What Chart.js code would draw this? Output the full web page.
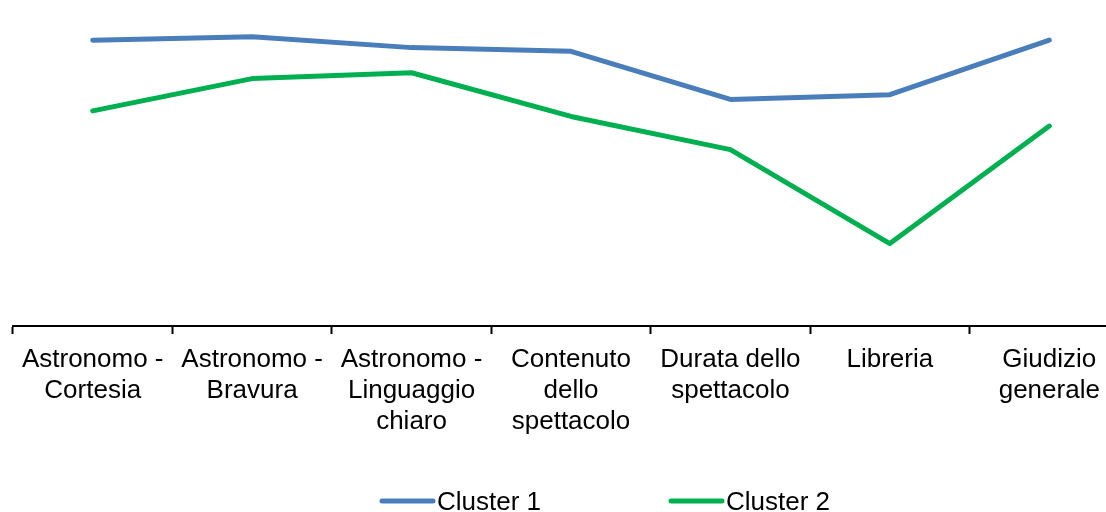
<!DOCTYPE html>
<html>
<head>
<meta charset="utf-8">
<script src="https://cdn.jsdelivr.net/npm/chart.js@4"></script>
<style>
  html, body { margin: 0; padding: 0; background: #fff; overflow: hidden; }
  #wrap { width: 1130px; height: 512px; position: relative; }
</style>
</head>
<body>
<div id="wrap"><canvas id="c" width="1130" height="512"></canvas></div>
<script>
const categories = [
  ["Astronomo -", "Cortesia"],
  ["Astronomo -", "Bravura"],
  ["Astronomo -", "Linguaggio", "chiaro"],
  ["Contenuto", "dello", "spettacolo"],
  ["Durata dello", "spettacolo"],
  ["Libreria"],
  ["Giudizio", "generale"]
];
const seriesNames = ["Cluster 1", "Cluster 2"];
const cluster1 = [9.22, 9.33, 8.98, 8.86, 7.31, 7.46, 9.22];
const cluster2 = [6.94, 7.98, 8.17, 6.76, 5.69, 2.66, 6.45];
const colors = ["#4A7EBB", "#00B050"];
const FONT = "'Liberation Sans', Arial, sans-serif";

const legendPlugin = {
  id: 'customLegend',
  afterDraw(chart) {
    const ctx = chart.ctx;
    const items = [
      { x: 380, name: seriesNames[0], color: colors[0] },
      { x: 669, name: seriesNames[1], color: colors[1] }
    ];
    const y = 501;
    ctx.save();
    items.forEach(it => {
      ctx.strokeStyle = it.color;
      ctx.lineWidth = 5;
      ctx.lineCap = 'round';
      ctx.beginPath();
      ctx.moveTo(it.x + 2, y);
      ctx.lineTo(it.x + 53, y);
      ctx.stroke();
      ctx.fillStyle = '#000';
      ctx.font = "26px " + FONT;
      ctx.textBaseline = 'middle';
      ctx.textAlign = 'left';
      ctx.fillText(it.name, it.x + 57, y + 2);
    });
    ctx.restore();
  }
};

new Chart(document.getElementById('c'), {
  type: 'line',
  data: {
    labels: categories,
    datasets: [
      { label: seriesNames[0], data: cluster1, borderColor: colors[0], backgroundColor: colors[0],
        borderWidth: 5, pointRadius: 0, tension: 0, borderCapStyle: 'round', borderJoinStyle: 'round' },
      { label: seriesNames[1], data: cluster2, borderColor: colors[1], backgroundColor: colors[1],
        borderWidth: 5, pointRadius: 0, tension: 0, borderCapStyle: 'round', borderJoinStyle: 'round' }
    ]
  },
  options: {
    responsive: false,
    animation: false,
    devicePixelRatio: 1,
    layout: { padding: { left: 13, right: 1, top: 16, bottom: 0 } },
    plugins: { legend: { display: false }, tooltip: { enabled: false }, title: { display: false } },
    scales: {
      x: {
        offset: true,
        afterFit: s => { s.height = 186; },
        grid: { display: true, drawOnChartArea: false, drawTicks: true, tickLength: 8, tickWidth: 2, tickColor: '#000', offset: true },
        border: { display: true, color: '#000', width: 2 },
        ticks: { color: '#000', font: { family: FONT, size: 26 }, padding: 10, maxRotation: 0, minRotation: 0, autoSkip: false }
      },
      y: {
        display: false,
        min: 0,
        max: 10
      }
    }
  },
  plugins: [legendPlugin]
});
</script>
</body>
</html>
